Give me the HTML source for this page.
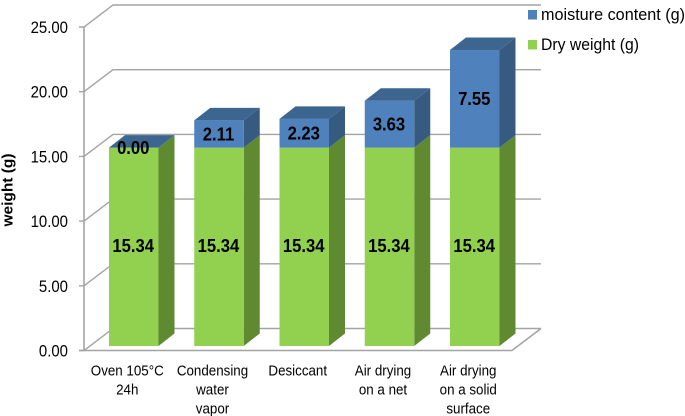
<!DOCTYPE html>
<html>
<head>
<meta charset="utf-8">
<title>Weight by drying method</title>
<style>
html,body{margin:0;padding:0;background:#fff;width:685px;height:416px;overflow:hidden}
svg{display:block;font-family:"Liberation Sans",sans-serif;filter:blur(0.35px)}
</style>
</head>
<body>
<svg id="chart" width="685" height="416" viewBox="0 0 685 416" xmlns="http://www.w3.org/2000/svg">
  <g id="grid"></g>
  <g id="bars"></g>
  <g id="ticks"></g>
  <g id="cats"></g>
  <g id="vals"></g>
  <text transform="translate(12.5,190) rotate(-90)" text-anchor="middle" font-size="15" font-weight="bold" textLength="73" lengthAdjust="spacingAndGlyphs" fill="#000">weight (g)</text>
  <g>
    <rect x="528" y="10" width="9" height="9.5" fill="#4f81bd"/>
    <text x="541" y="20" font-size="16.5" textLength="144" lengthAdjust="spacingAndGlyphs" fill="#000">moisture content (g)</text>
    <rect x="528" y="40" width="9" height="9.5" fill="#92d050"/>
    <text x="541" y="50" font-size="16.5" textLength="98" lengthAdjust="spacingAndGlyphs" fill="#000">Dry weight (g)</text>
  </g>
</svg>
<script>
const categories = [["Oven 105°C","24h"],["Condensing","water","vapor"],["Desiccant"],["Air drying","on a net"],["Air drying","on a solid","surface"]];
const dryWeight = [15.34, 15.34, 15.34, 15.34, 15.34];
const moistureContent = [0.00, 2.11, 2.23, 3.63, 7.55];
const tickLabels = ["0.00","5.00","10.00","15.00","20.00","25.00"];
const tickValues = [0, 5, 10, 15, 20, 25];

const NS = "http://www.w3.org/2000/svg";
const gridG = document.getElementById("grid");
const barsG = document.getElementById("bars");
const ticksG = document.getElementById("ticks");
const catsG = document.getElementById("cats");
const valsG = document.getElementById("vals");

// axis functions
const wallY = v => 350.5 - v * 12.94;          // front plane of the axis
const barY = v => 346 - v * 12.93;             // front face of the bars
const barX = i => 109 + i * 85.25;
const barW = 49.5, depthX = 16, depthY = 12.5;
const backX = 29, backY = 22, axisX = 84, floorEnd = 512;

function make(tag, attrs, parent) {
  const el = document.createElementNS(NS, tag);
  for (const k in attrs) el.setAttribute(k, attrs[k]);
  parent.appendChild(el);
  return el;
}
function pts(list) { return list.map(p => p.join(",")).join(" "); }

const lineStyle = {stroke: "#a3a3a3", "stroke-width": 1.4, fill: "none"};

tickValues.forEach((v, i) => {
  const y = wallY(v);
  const g = make("polyline", Object.assign({points: pts([[79, y], [axisX, y], [axisX + backX, y - backY], [floorEnd + backX, y - backY]])}, lineStyle), gridG);
  
  

  const t = make("text", {transform: `translate(68,${y + 6}) scale(0.88,1)`, "text-anchor": "end", "font-size": 17, fill: "#000"}, ticksG);
  t.textContent = tickLabels[i];
  
  
});

const yAxisLine = make("line", Object.assign({x1: axisX, y1: wallY(25), x2: axisX, y2: wallY(0)}, lineStyle, {"stroke-width": 1.6}), gridG);



const floorLine = make("polyline", Object.assign({points: pts([[79, wallY(0)], [floorEnd, wallY(0)], [floorEnd + backX, wallY(0) - backY]])}, lineStyle, {"stroke-width": 1.6}), gridG);



function drawSegment(i, from, to, front, side, top, drawTop) {
  const x = barX(i), y0 = barY(from), y1 = barY(to);
  const s = make("polygon", {points: pts([[x + barW, y0], [x + barW + depthX, y0 - depthY], [x + barW + depthX, y1 - depthY], [x + barW, y1]]), fill: side}, barsG);
  
  
  const f = make("rect", {x: x, y: y1, width: barW, height: Math.max(0, y0 - y1), fill: front}, barsG);
  
  
  if (drawTop) {
    const p = make("polygon", {points: pts([[x, y1], [x + depthX, y1 - depthY], [x + barW + depthX, y1 - depthY], [x + barW, y1]]), fill: top}, barsG);
    
    
  }
}

function drawValue(i, v, mid) {
  const t = make("text", {transform: `translate(${barX(i) + barW / 2 - 0.5},${barY(mid) + 6.3}) scale(0.9,1)`, "text-anchor": "middle", "font-size": 18.5, "font-weight": "bold", fill: "#000"}, valsG);
  t.textContent = v.toFixed(2);
  
  
}

categories.forEach((lines, i) => {
  const d = dryWeight[i], m = moistureContent[i];
  drawSegment(i, 0, d, "#92d050", "#5f8a32", "#5f8a32", false);
  drawSegment(i, d, d + m, "#4f81bd", "#365a80", "#3c6590", true);
  drawValue(i, d, d / 2 + 0.1);
  drawValue(i, m, d + m / 2);

  lines.forEach((line, j) => {
    const c = make("text", {transform: `translate(${barX(i) + barW / 2 - 6.5},${375.5 + j * 19}) scale(0.88,1)`, "text-anchor": "middle", "font-size": 15.2, fill: "#000"}, catsG);
    c.textContent = line;
    
    
  });
});
</script>
</body>
</html>
